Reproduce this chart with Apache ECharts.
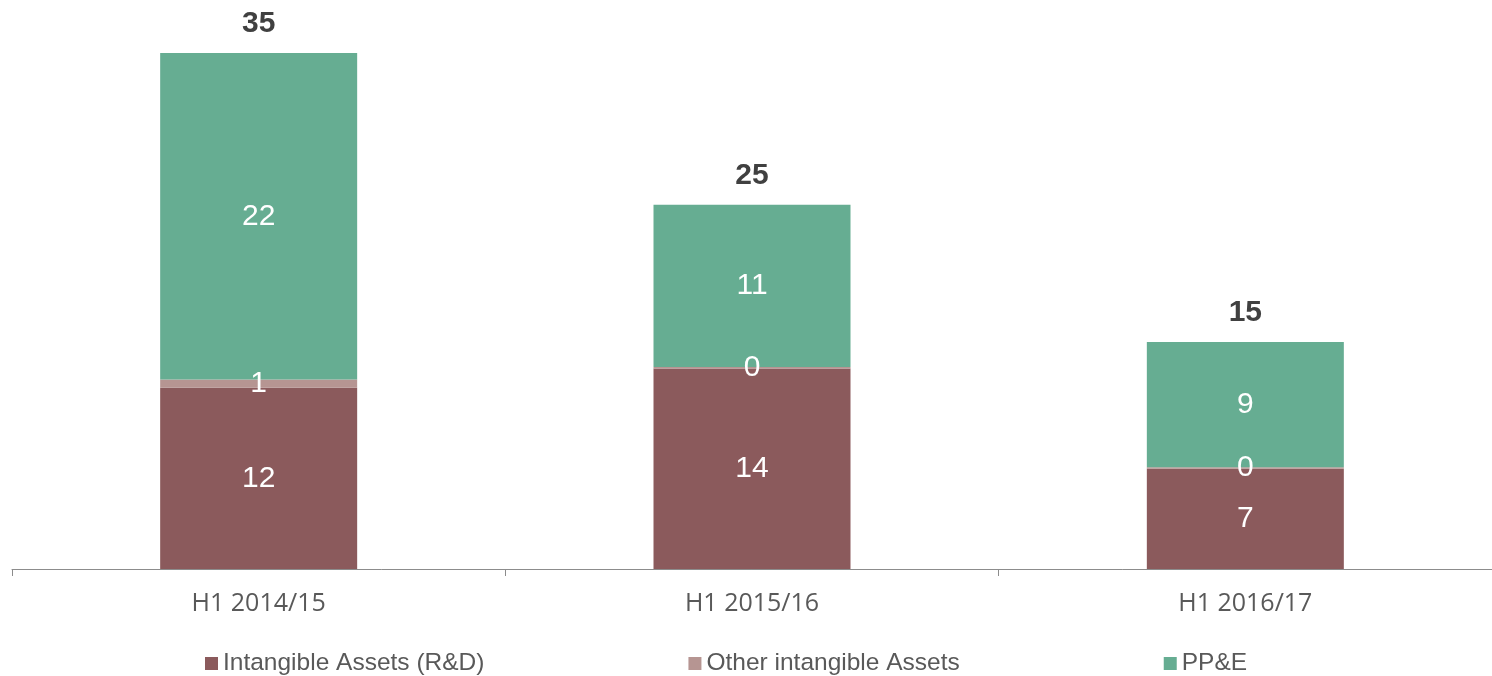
<!DOCTYPE html>
<html>
<head>
<meta charset="utf-8">
<script src="https://cdn.jsdelivr.net/npm/echarts@6/dist/echarts.min.js"></script>
<style>
  html, body { margin: 0; padding: 0; background: #fff; }
  #chart { width: 1492px; height: 676px; }
</style>
</head>
<body>
<div id="chart"></div>
<script>
// data (rounded labels are shown)
const categories = ['H1 2014/15', 'H1 2015/16', 'H1 2016/17']
const rndValues = [12.3, 13.6, 6.8]
const otherValues = [0.55, 0.1, 0.1]
const ppeValues = [22.15, 11.0, 8.5]

const totals = categories.map((c, i) => rndValues[i] + otherValues[i] + ppeValues[i])

const chart = echarts.init(document.getElementById('chart'))

const innerLabel = {
  show: true,
  position: 'inside',
  color: '#fff',
  fontFamily: 'Liberation Sans',
  fontSize: 30,
  formatter: p => Math.round(p.value)
}

function stackSeries(name, data, color) {
  return {
    name: name,
    type: 'bar',
    stack: 'all',
    barWidth: 197,
    data: data,
    itemStyle: { color: color },
    label: innerLabel
  }
}

chart.setOption({
  animation: false,
  grid: {
    left: 12,
    right: 0,
    top: 53,
    bottom: 107
  },
  legend: {
    data: ['Intangible Assets (R&D)', 'Other intangible Assets', 'PP&E'],
    left: 200,
    top: 646,
    itemGap: 204,
    itemWidth: 13,
    itemHeight: 13,
    icon: 'rect',
    textStyle: {
      color: '#595959',
      fontFamily: 'Liberation Sans',
      fontSize: 24.5
    }
  },
  xAxis: {
    type: 'category',
    data: categories,
    axisLine: { lineStyle: { color: '#8c8c8c', width: 1 } },
    axisTick: { show: true, length: 7, lineStyle: { color: '#8c8c8c' } },
    axisLabel: {
      color: '#595959',
      fontFamily: 'Open Sans',
      fontSize: 25,
      margin: 22
    }
  },
  yAxis: {
    type: 'value',
    min: 0,
    max: 35,
    show: false,
    splitLine: { show: false }
  },
  series: [
    stackSeries('Intangible Assets (R&D)', rndValues, '#8b5a5c'),
    stackSeries('Other intangible Assets', otherValues, '#b69592'),
    stackSeries('PP&E', ppeValues, '#66ad92'),
    {
      name: 'Total',
      type: 'bar',
      barWidth: 197,
      barGap: '-100%',
      silent: true,
      z: 1,
      data: totals,
      itemStyle: { color: 'rgba(0,0,0,0)' },
      label: {
        show: true,
        position: 'top',
        distance: 14,
        color: '#404040',
        fontFamily: 'Liberation Sans',
        fontWeight: 'bold',
        fontSize: 30,
        formatter: p => Math.round(p.value)
      }
    }
  ]
})
</script>
</body>
</html>
